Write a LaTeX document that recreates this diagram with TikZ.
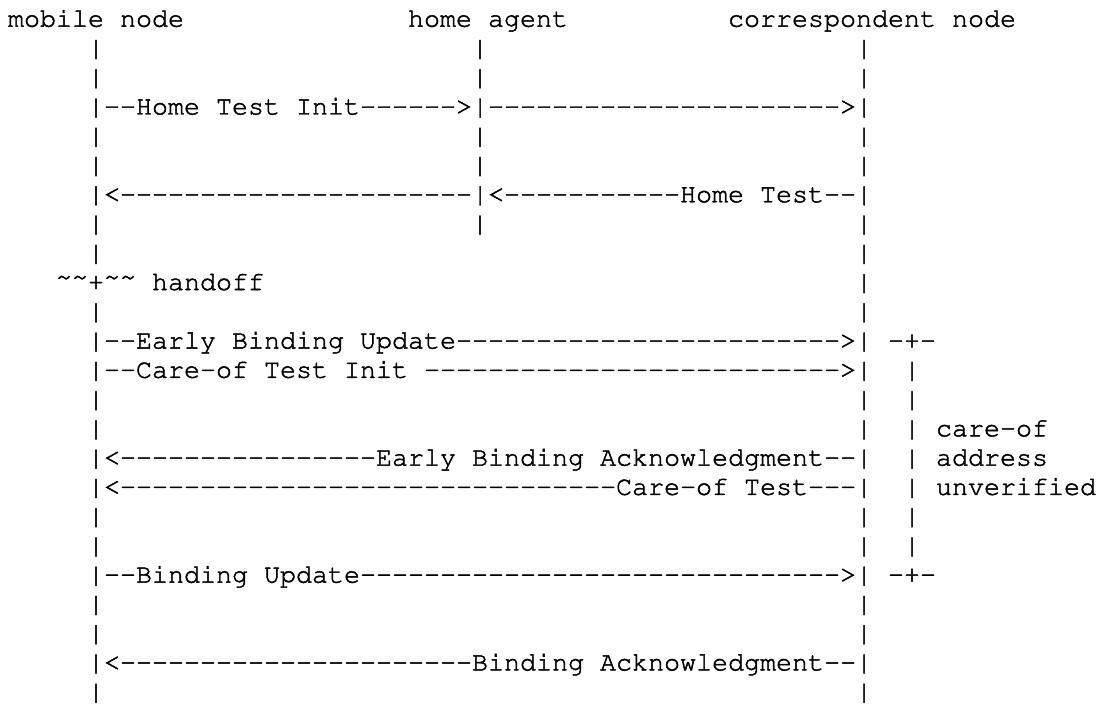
\documentclass[tikz,border=0pt]{standalone}
\usepackage[T1]{fontenc}
\usepackage{courier}
\ExplSyntaxOn
\cs_new:Npn \dashrun #1 {\prg_replicate:nn{#1}{-{}}}
\ExplSyntaxOff
\newcommand\heavytext{\special{pdf:literal direct 2 Tr 0.45 w}}
\newcommand\hightilde{\raisebox{5pt}{\textasciitilde\textasciitilde}}
\tikzset{txt/.style={anchor=base west, inner sep=0pt, outer sep=0pt,
  font=\fontsize{26.67}{30}\selectfont\ttfamily\heavytext, text=black}}
\newcommand\seg[4]{\node[txt] (#1) at ({8+16*#2},{-26.7-29.26*#3}) {#4};}
\begin{document}
\begin{tikzpicture}[x=1pt,y=1pt]
\useasboundingbox (0,0) rectangle (1101,-709);
% titles
\seg{mn}{0}{0}{mobile node}
\seg{ha}{25}{0}{home agent}
\seg{cn}{45}{0}{correspondent node}
% lifelines
\foreach \i in {1,2,4,5,7,8,10,13,14,17,18,20,21,23} {\seg{mnbar\i}{5}{\i}{|}}
\foreach \i in {1,2,4,5,7} {\seg{habar\i}{29}{\i}{|}}
\foreach \i in {1,2,4,5,7,8,9,10,13,14,17,18,20,21,23} {\seg{cnbar\i}{53}{\i}{|}}
% messages
\seg{hti}{5}{3}{|\dashrun{2}Home Test Init\dashrun{6}>|\dashrun{22}>|}
\seg{ht}{5}{6}{|<\dashrun{22}|<\dashrun{11}Home Test\dashrun{2}|}
\seg{handoff}{3}{9}{\hightilde+\hightilde{} handoff}
\seg{ebu}{5}{11}{|\dashrun{2}Early Binding Update\dashrun{24}>|}
\seg{coti}{5}{12}{|\dashrun{2}Care-of Test Init \dashrun{26}>|}
\seg{eba}{5}{15}{|<\dashrun{16}Early Binding Acknowledgment\dashrun{2}|}
\seg{cot}{5}{16}{|<\dashrun{31}Care-of Test\dashrun{3}|}
\seg{bu}{5}{19}{|\dashrun{2}Binding Update\dashrun{30}>|}
\seg{ba}{5}{22}{|<\dashrun{22}Binding Acknowledgment\dashrun{2}|}
% bracket
\seg{brtop}{55}{11}{-+-}
\foreach \i in {12,...,18} {\seg{brbar\i}{56}{\i}{|}}
\seg{brbot}{55}{19}{-+-}
\seg{lab1}{58}{14}{care-of}
\seg{lab2}{58}{15}{address}
\seg{lab3}{58}{16}{unverified}
\end{tikzpicture}
\end{document}
